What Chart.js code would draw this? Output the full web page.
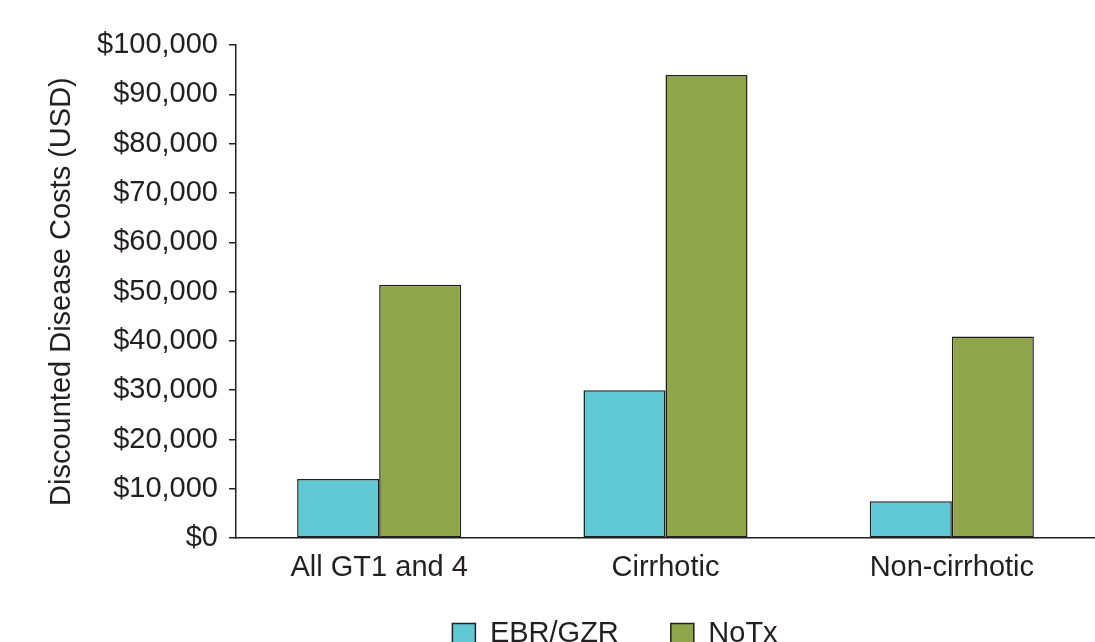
<!DOCTYPE html>
<html lang="en">
<head>
  <meta charset="UTF-8">
  <title>Discounted Disease Costs</title>
  <script src="https://cdn.jsdelivr.net/npm/chart.js"></script>
  <style>
    html, body { margin: 0; padding: 0; background: #fff; }
    #wrap { width: 1095px; height: 642px; }
  </style>
</head>
<body>
  <div id="wrap"><canvas id="grafico" width="1095" height="642"></canvas></div>

  <script>
    // Datos
    const categories = ['All GT1 and 4', 'Cirrhotic', 'Non-cirrhotic'];
    const ebrGzr = [12000, 30000, 7500];
    const noTx = [51400, 93900, 40900];
    const seriesNames = ['EBR/GZR', 'NoTx'];
    const yTicks = [0, 10000, 20000, 30000, 40000, 50000, 60000, 70000, 80000, 90000, 100000];

    const INK = '#231f20';
    const FONT = 'Liberation Sans, Arial, Helvetica, sans-serif';
    const LEGEND_H = 45;

    // mover la leyenda para que quede como en la imagen
    // (la leyenda recorta a su caja, asi que solo se sube el top)
    const legendShift = {
      id: 'legendShift',
      afterLayout(chart) {
        const lg = chart.legend;
        if (!lg) return;
        const dx = 615 - (lg.left + lg.right) / 2;
        lg.left += dx; lg.right += dx;
        lg.top = 567;
        lg.bottom = chart.height;
      }
    };

    const ctx = document.getElementById('grafico').getContext('2d');
    const chart = new Chart(ctx, {
      type: 'bar',
      data: {
        labels: categories,
        datasets: [
          {
            label: seriesNames[0],
            data: ebrGzr,
            backgroundColor: '#61c9d3',
            borderColor: INK,
            borderWidth: 1.5,
            borderSkipped: false,
            categoryPercentage: 0.573,
            barPercentage: 1
          },
          {
            label: seriesNames[1],
            data: noTx,
            backgroundColor: '#8fa549',
            borderColor: INK,
            borderWidth: 1.5,
            borderSkipped: false,
            categoryPercentage: 0.573,
            barPercentage: 1
          }
        ]
      },
      options: {
        responsive: false,
        animation: false,
        layout: {
          padding: { top: 45, left: 45, right: 0, bottom: 0 }
        },
        plugins: {
          tooltip: { enabled: false },
          legend: {
            position: 'bottom',
            labels: {
              color: INK,
              font: { family: FONT, size: 29 },
              boxWidth: 23,
              boxHeight: 20,
              padding: 52
            }
          }
        },
        scales: {
          x: {
            grid: { display: false, drawTicks: false },
            border: { display: true, color: INK, width: 1.5 },
            ticks: {
              color: INK,
              font: { family: FONT, size: 29 },
              padding: 12,
              maxRotation: 0
            }
          },
          y: {
            min: 0,
            max: 100000,
            afterFit(scale) { scale.width = 191; },
            afterBuildTicks(scale) { scale.ticks = yTicks.map(v => ({ value: v })); },
            grid: {
              drawOnChartArea: false,
              drawTicks: true,
              tickLength: 7,
              color: INK,
              lineWidth: 1.5
            },
            border: { display: true, color: INK, width: 1.5 },
            ticks: {
              color: INK,
              font: { family: FONT, size: 29 },
              padding: 11,
              callback: v => '$' + v.toLocaleString('en-US')
            },
            title: {
              display: true,
              text: 'Discounted Disease Costs (USD)',
              color: INK,
              font: { family: FONT, size: 29 },
              padding: { top: 0, bottom: 0 }
            }
          }
        }
      },
      plugins: [legendShift]
    });

    // la leyenda tiene mucho padding entre items; fijar su alto
    const baseFit = chart.legend.fit.bind(chart.legend);
    chart.legend.fit = function () {
      baseFit();
      this.height = LEGEND_H;
    };
    chart.update();
  </script>
</body>
</html>
